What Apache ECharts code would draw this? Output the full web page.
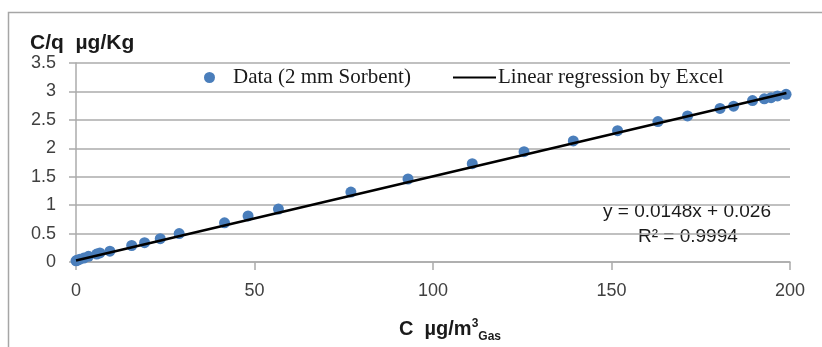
<!DOCTYPE html>
<html>
<head>
<meta charset="utf-8">
<script src="https://cdn.jsdelivr.net/npm/echarts@6/dist/echarts.min.js"></script>
<style>
html,body{margin:0;padding:0;background:#fff;}
#c{width:822px;height:347px;}
</style>
</head>
<body>
<div id="c"></div>
<script>
// Data
var dataX = [0, 0.3, 1.1, 2.2, 3.5, 5.8, 6.7, 9.5, 15.6, 19.2, 23.6, 28.9, 41.6, 48.2, 56.7, 77, 93, 111, 125.5, 139.3, 151.7, 163, 171.3, 180.4, 184.2, 189.5, 192.8, 194.7, 196.5, 198.9];
var dataY = [0.02, 0.03, 0.05, 0.07, 0.1, 0.14, 0.16, 0.19, 0.29, 0.34, 0.41, 0.5, 0.69, 0.81, 0.93, 1.23, 1.46, 1.73, 1.94, 2.13, 2.31, 2.47, 2.57, 2.70, 2.74, 2.84, 2.87, 2.89, 2.92, 2.95];
var fitX = [0, 199];
var fitY = [0.026, 2.971];
var xTicks = [0, 50, 100, 150, 200];
var yTicks = [0, 0.5, 1, 1.5, 2, 2.5, 3, 3.5];
var seriesNames = ['Data (2 mm Sorbent)', 'Linear regression by Excel'];
var equationText = 'y = 0.0148x + 0.026';
var r2Text = 'R² = 0.9994';

var scatterData = dataX.map(function (x, i) { return [x, dataY[i]]; });
var fitData = fitX.map(function (x, i) { return [x, fitY[i]]; });

var chart = echarts.init(document.getElementById('c'), null, {renderer: 'canvas'});
var gray = '#ababab';
var labelColor = '#404040';
var font = 'Liberation Sans';

chart.setOption({
  animation: false,
  backgroundColor: '#fff',
  grid: {left: 76, right: 32, top: 63, bottom: 85, containLabel: false, outerBoundsMode: 'none'},
  title: {
    text: 'C/q  µg/Kg',
    left: 30, top: 33, padding: 0,
    textStyle: {fontFamily: font, fontWeight: 'bold', fontSize: 21, color: '#1a1a1a'}
  },
  legend: [{
    data: [seriesNames[0]],
    left: 204, top: 67, padding: 0,
    itemWidth: 11, itemHeight: 11, itemGap: 0,
    textStyle: {fontFamily: 'Liberation Serif', fontSize: 21, color: '#1a1a1a', padding: [0, 0, 0, 13]}
  }, {
    data: [{name: seriesNames[1], itemStyle: {opacity: 0}}],
    left: 452, top: 67, padding: 0,
    itemWidth: 43, itemHeight: 11, itemGap: 0,
    textStyle: {fontFamily: 'Liberation Serif', fontSize: 21, color: '#1a1a1a', padding: [0, 0, 0, -3]}
  }],
  xAxis: {
    type: 'value', min: 0, max: 200, interval: 50,
    axisLine: {show: true, onZero: false, lineStyle: {color: gray, width: 1.5}},
    axisTick: {show: true, length: 8, lineStyle: {color: gray, width: 1.5}},
    splitLine: {show: false},
    axisLabel: {
      fontFamily: font, fontSize: 18, color: labelColor, margin: 20,
      formatter: function (v) { return xTicks.indexOf(v) >= 0 ? String(v) : ''; }
    },
    name: '{a|C  µg/m}{sup|3}{sub|Gas}',
    nameLocation: 'middle', nameGap: 56,
    nameTextStyle: {
      padding: [0, 0, 0, 34],
      rich: {
        a: {fontFamily: font, fontWeight: 'bold', fontSize: 20, color: '#1a1a1a', verticalAlign: 'bottom'},
        sup: {fontFamily: font, fontWeight: 'bold', fontSize: 12, color: '#1a1a1a', padding: [0, 0, 9, 0], verticalAlign: 'bottom'},
        sub: {fontFamily: font, fontWeight: 'bold', fontSize: 12, color: '#1a1a1a', padding: [0, 0, -4, 0], verticalAlign: 'bottom'}
      }
    }
  },
  yAxis: {
    type: 'value', min: 0, max: 3.5, interval: 0.5,
    axisLine: {show: true, lineStyle: {color: gray, width: 1.5}},
    axisTick: {show: true, length: 7, lineStyle: {color: gray, width: 1.5}},
    splitLine: {show: true, lineStyle: {color: gray, width: 1.5}},
    axisLabel: {
      fontFamily: font, fontSize: 18, color: labelColor, margin: 20,
      formatter: function (v) { return yTicks.indexOf(v) >= 0 ? String(v) : ''; }
    }
  },
  graphic: [
    {type: 'rect', silent: true, z: -1, shape: {x: 8.5, y: 12.5, width: 830, height: 400},
     style: {fill: 'none', stroke: '#a6a6a6', lineWidth: 1.5}},
    {type: 'text', left: 603, top: 202, style: {text: equationText, font: '19px "Liberation Sans"', fill: '#1a1a1a'}},
    {type: 'text', left: 638, top: 227, style: {text: r2Text, font: '19px "Liberation Sans"', fill: '#1a1a1a'}}
  ],
  series: [{
    name: seriesNames[0],
    type: 'scatter',
    data: scatterData,
    symbol: 'circle',
    symbolSize: 11,
    itemStyle: {color: '#4a7ebb', opacity: 1}
  }, {
    name: seriesNames[1],
    type: 'line',
    data: fitData,
    symbol: 'none',
    lineStyle: {color: '#000', width: 2.5},
    itemStyle: {color: '#000'},
    z: 3
  }]
});
</script>
</body>
</html>
